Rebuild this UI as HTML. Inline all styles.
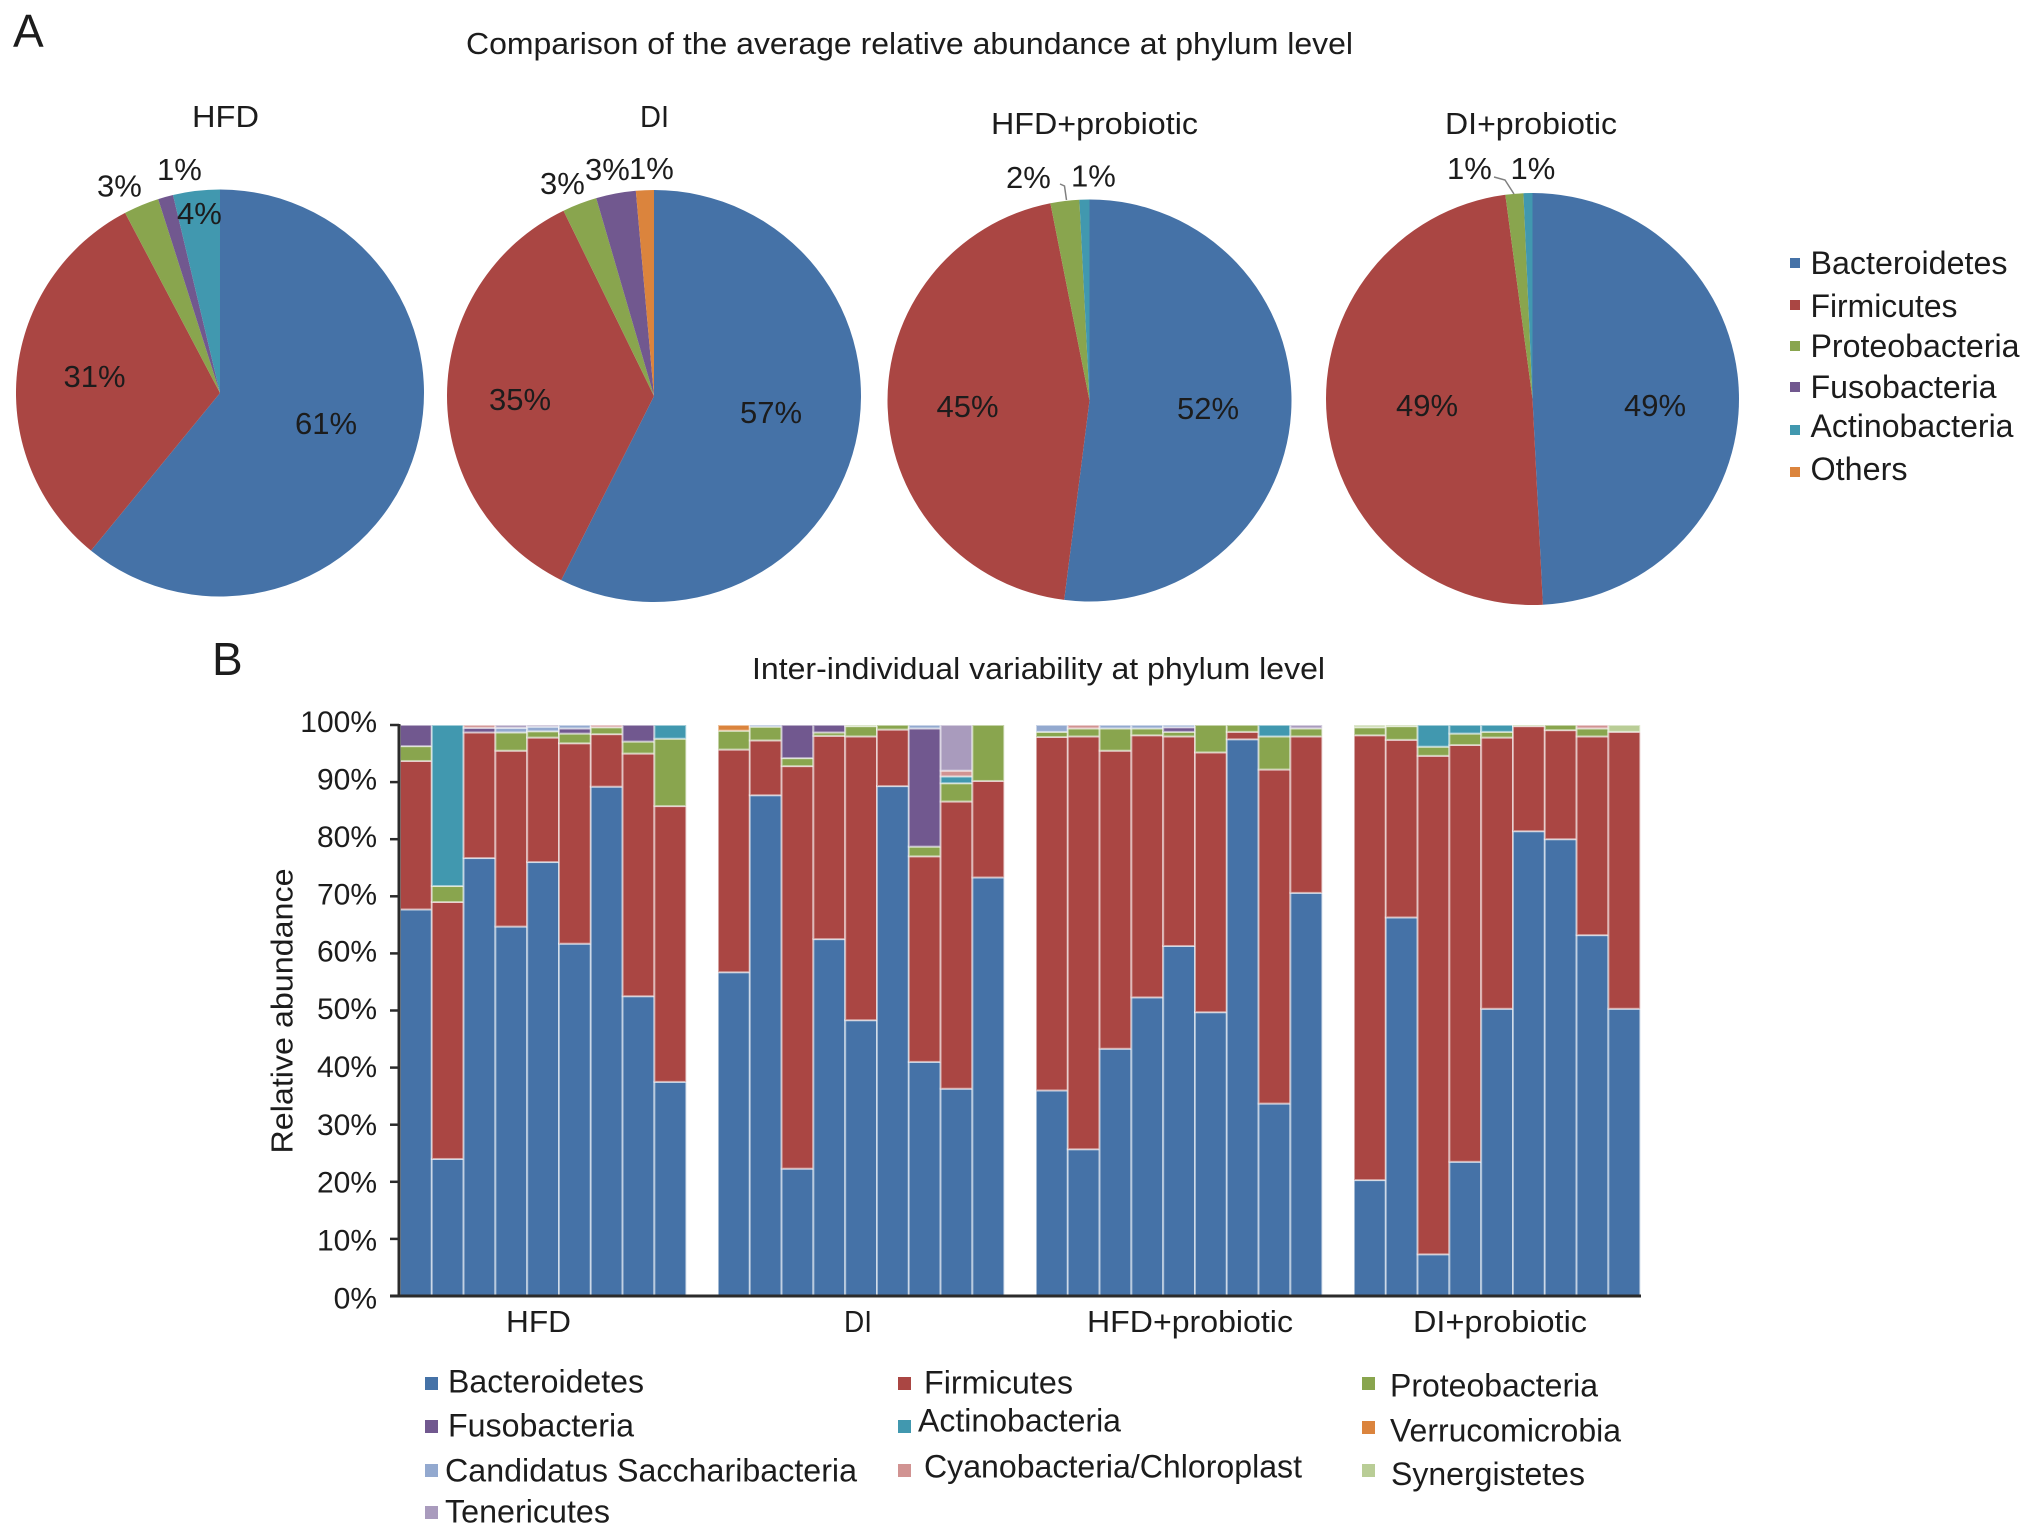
<!DOCTYPE html>
<html lang="en">
<head>
<meta charset="utf-8">
<title>Phylum level relative abundance</title>
<style>
html,body{margin:0;padding:0;background:#fff;}
svg{display:block;}
text{font-family:"Liberation Sans",Arial,sans-serif;fill:#1c1c1c;}
</style>
</head>
<body>
<svg id="figure" width="2032" height="1536" viewBox="0 0 2032 1536" xmlns="http://www.w3.org/2000/svg">
  <rect x="0" y="0" width="2032" height="1536" fill="#ffffff"/>
  <text x="13" y="47" font-size="46">A</text>
  <text x="212" y="675" font-size="46">B</text>
  <text x="466" y="54" font-size="31" textLength="887" lengthAdjust="spacingAndGlyphs">Comparison of the average relative abundance at phylum level</text>
  <text x="752" y="679" font-size="31" textLength="573" lengthAdjust="spacingAndGlyphs">Inter-individual variability at phylum level</text>

  <text x="192" y="127" font-size="31" textLength="67" lengthAdjust="spacingAndGlyphs">HFD</text>
  <text x="640" y="127" font-size="31" textLength="29" lengthAdjust="spacingAndGlyphs">DI</text>
  <text x="991" y="134" font-size="31" textLength="207" lengthAdjust="spacingAndGlyphs">HFD+probiotic</text>
  <text x="1445" y="134" font-size="31" textLength="172" lengthAdjust="spacingAndGlyphs">DI+probiotic</text>

  <g id="pies"></g>

  <polyline points="1060,184 1064.5,186 1066.5,200" fill="none" stroke="#808080" stroke-width="1.5"/>
  <polyline points="1494,177 1505,180 1514,194" fill="none" stroke="#808080" stroke-width="1.5"/>

  <g>
    <rect x="1790" y="258" width="10" height="10" fill="#4572a7"/>
    <text x="1810.5" y="274" font-size="32" textLength="197" lengthAdjust="spacingAndGlyphs">Bacteroidetes</text>
    <rect x="1790" y="300" width="10" height="10" fill="#aa4643"/>
    <text x="1810.5" y="317" font-size="32" textLength="147" lengthAdjust="spacingAndGlyphs">Firmicutes</text>
    <rect x="1790" y="341" width="10" height="10" fill="#89a54e"/>
    <text x="1810.5" y="357" font-size="32" textLength="209" lengthAdjust="spacingAndGlyphs">Proteobacteria</text>
    <rect x="1790" y="382" width="10" height="10" fill="#71588f"/>
    <text x="1810.5" y="398" font-size="32" textLength="186" lengthAdjust="spacingAndGlyphs">Fusobacteria</text>
    <rect x="1790" y="425" width="10" height="10" fill="#4198af"/>
    <text x="1810.5" y="437" font-size="32" textLength="203" lengthAdjust="spacingAndGlyphs">Actinobacteria</text>
    <rect x="1790" y="467" width="10" height="10" fill="#db843d"/>
    <text x="1810.5" y="480" font-size="32" textLength="97" lengthAdjust="spacingAndGlyphs">Others</text>
  </g>

  <g id="bars"></g>
  <g id="axes"></g>

  <text transform="translate(292.5,1011) rotate(-90)" text-anchor="middle" font-size="31" textLength="285" lengthAdjust="spacingAndGlyphs">Relative abundance</text>

  <g>
    <rect x="425" y="1377" width="13" height="13" fill="#4572a7"/>
    <text x="448" y="1392.5" font-size="32" textLength="196" lengthAdjust="spacingAndGlyphs">Bacteroidetes</text>
    <rect x="898" y="1377" width="13" height="13" fill="#aa4643"/>
    <text x="924" y="1393.5" font-size="32" textLength="149" lengthAdjust="spacingAndGlyphs">Firmicutes</text>
    <rect x="1362" y="1377" width="13" height="13" fill="#89a54e"/>
    <text x="1390" y="1396.5" font-size="32" textLength="208" lengthAdjust="spacingAndGlyphs">Proteobacteria</text>

    <rect x="425" y="1420" width="13" height="13" fill="#71588f"/>
    <text x="448" y="1436.5" font-size="32" textLength="186" lengthAdjust="spacingAndGlyphs">Fusobacteria</text>
    <rect x="898" y="1420" width="13" height="13" fill="#4198af"/>
    <text x="918" y="1431.5" font-size="32" textLength="203" lengthAdjust="spacingAndGlyphs">Actinobacteria</text>
    <rect x="1362" y="1421" width="13" height="13" fill="#db843d"/>
    <text x="1390" y="1441.5" font-size="32" textLength="231" lengthAdjust="spacingAndGlyphs">Verrucomicrobia</text>

    <rect x="425" y="1464" width="13" height="13" fill="#93a9cf"/>
    <text x="445" y="1481.5" font-size="32" textLength="412" lengthAdjust="spacingAndGlyphs">Candidatus Saccharibacteria</text>
    <rect x="898" y="1464" width="13" height="13" fill="#d19392"/>
    <text x="924" y="1477.5" font-size="32" textLength="378" lengthAdjust="spacingAndGlyphs">Cyanobacteria/Chloroplast</text>
    <rect x="1362" y="1464" width="13" height="13" fill="#b9cd96"/>
    <text x="1391" y="1485" font-size="32" textLength="194" lengthAdjust="spacingAndGlyphs">Synergistetes</text>

    <rect x="425" y="1506" width="13" height="13" fill="#a99bbd"/>
    <text x="445" y="1522.5" font-size="32" textLength="165" lengthAdjust="spacingAndGlyphs">Tenericutes</text>
  </g>
</svg>

<script>
// ---- Pie data (percent): Bacteroidetes, Firmicutes, Proteobacteria, Fusobacteria, Actinobacteria, Others
var pieCategories = ['Bacteroidetes', 'Firmicutes', 'Proteobacteria', 'Fusobacteria', 'Actinobacteria', 'Others'];
var pieHFD = [60.9, 31.4, 2.8, 1.2, 3.7, 0];
var pieDI = [57.4, 35.4, 2.7, 3.1, 0, 1.4];
var pieHFDProbiotic = [52.0, 44.9, 2.3, 0, 0.8, 0];
var pieDIProbiotic = [49.2, 48.7, 1.4, 0, 0.7, 0];

// ---- Bar data (percent per individual, 9 individuals in each of 4 groups)
var groupNames = ['HFD', 'DI', 'HFD+probiotic', 'DI+probiotic'];
var yTickValues = [0, 10, 20, 30, 40, 50, 60, 70, 80, 90, 100];
var seriesNames = ['Bacteroidetes', 'Firmicutes', 'Proteobacteria', 'Fusobacteria', 'Actinobacteria', 'Verrucomicrobia', 'Candidatus Saccharibacteria', 'Cyanobacteria/Chloroplast', 'Synergistetes', 'Tenericutes'];
var bacteroidetes = [67.7, 24, 76.7, 64.7, 76, 61.7, 89.2, 52.5, 37.5,
  56.7, 87.7, 22.3, 62.5, 48.3, 89.3, 41, 36.3, 73.3,
  36, 25.7, 43.3, 52.3, 61.3, 49.7, 97.5, 33.7, 70.6,
  20.3, 66.3, 7.3, 23.5, 50.3, 81.4, 80, 63.2, 50.3];
var firmicutes = [26, 45, 22, 30.8, 21.8, 35.1, 9.2, 42.5, 48.3,
  39, 9.6, 70.5, 35.6, 49.7, 9.9, 36, 50.3, 16.9,
  61.9, 72.3, 52.2, 45.9, 36.7, 45.5, 1.3, 58.5, 27.4,
  77.9, 31.1, 87.3, 73, 47.5, 18.4, 19.1, 34.8, 48.5];
var proteobacteria = [2.6, 2.8, 0, 3.2, 1.1, 1.7, 1.2, 2.1, 11.8,
  3.3, 2.4, 1.4, 0.6, 1.8, 0.8, 1.7, 3.2, 9.8,
  0.9, 1.4, 3.9, 1.2, 0.8, 4.8, 1.2, 5.8, 1.4,
  1.4, 2.4, 1.6, 2, 1, 0, 0.9, 1.4, 0];
var fusobacteria = [3.7, 0, 0.8, 0, 0, 0.9, 0, 2.9, 0,
  0, 0, 5.8, 1.3, 0, 0, 20.7, 0, 0,
  0, 0, 0, 0, 0.8, 0, 0, 0, 0,
  0, 0, 0, 0, 0, 0, 0, 0, 0];
var actinobacteria = [0, 28.2, 0, 0, 0, 0, 0, 0, 2.4,
  0, 0, 0, 0, 0, 0, 0, 1.2, 0,
  0, 0, 0, 0, 0, 0, 0, 2, 0,
  0, 0, 3.8, 1.5, 1.2, 0, 0, 0, 0];
var verrucomicrobia = [0, 0, 0, 0, 0, 0, 0, 0, 0,
  1, 0, 0, 0, 0, 0, 0, 0, 0,
  0, 0, 0, 0, 0, 0, 0, 0, 0,
  0, 0, 0, 0, 0, 0, 0, 0, 0];
var candidatus = [0, 0, 0, 0.8, 0.8, 0.6, 0, 0, 0,
  0, 0.3, 0, 0, 0, 0, 0.6, 0, 0,
  1.2, 0, 0.6, 0.6, 0.4, 0, 0, 0, 0,
  0, 0, 0, 0, 0, 0, 0, 0, 0];
var cyanobacteria = [0, 0, 0.5, 0, 0, 0, 0.4, 0, 0,
  0, 0, 0, 0, 0, 0, 0, 1, 0,
  0, 0.6, 0, 0, 0, 0, 0, 0, 0,
  0, 0, 0, 0, 0, 0, 0, 0.6, 0];
var synergistetes = [0, 0, 0, 0, 0, 0, 0, 0, 0,
  0, 0, 0, 0, 0.2, 0, 0, 0, 0,
  0, 0, 0, 0, 0, 0, 0, 0, 0,
  0.4, 0.2, 0, 0, 0, 0.2, 0, 0, 1.2];
var tenericutes = [0, 0, 0, 0.5, 0.3, 0, 0, 0, 0,
  0, 0, 0, 0, 0, 0, 0, 8, 0,
  0, 0, 0, 0, 0, 0, 0, 0, 0.6,
  0, 0, 0, 0, 0, 0, 0, 0, 0];
var seriesValues = [bacteroidetes, firmicutes, proteobacteria, fusobacteria, actinobacteria, verrucomicrobia, candidatus, cyanobacteria, synergistetes, tenericutes];

(function () {
  var NS = 'http://www.w3.org/2000/svg';
  function make(tag, attrs, parent) {
    var node = document.createElementNS(NS, tag);
    for (var k in attrs) node.setAttribute(k, attrs[k]);
    parent.appendChild(node);
    return node;
  }
  function slug(s) { return s.toLowerCase().replace(/[^a-z0-9]+/g, '-'); }

  // ---------- Pies ----------
  var pieColors = ['#4572a7', '#aa4643', '#89a54e', '#71588f', '#4198af', '#db843d'];
  var pieSeries = [pieHFD, pieDI, pieHFDProbiotic, pieDIProbiotic];
  var pieFrames = [
    { cx: 220, cy: 393, rx: 204, ry: 203.5 },
    { cx: 654, cy: 396, rx: 207, ry: 206 },
    { cx: 1089.5, cy: 400.5, rx: 202, ry: 201 },
    { cx: 1532.5, cy: 399, rx: 206.5, ry: 206 }
  ];
  // Hand-placed label anchors (layout only) per pie, per category; null = no label.
  var pieLabelAnchors = [
    [[295, 434], [63.5, 387], [97, 196.5], [157, 180], [177, 224], null],
    [[740, 423], [489, 410], [540, 194], [585, 180], null, [629, 179]],
    [[1177, 419], [936.5, 417], [1006, 188], null, [1071, 186.5], null],
    [[1624, 416], [1396, 416], [1447, 179], null, [1510.5, 179], null]
  ];
  var pieRoot = document.getElementById('pies');
  pieSeries.forEach(function (values, p) {
    var f = pieFrames[p];
    var total = values.reduce(function (a, b) { return a + b; }, 0);
    var cum = 0;
    values.forEach(function (v, i) {
      if (v <= 0) return;
      var a0 = cum / total * 2 * Math.PI;
      cum += v;
      var a1 = cum / total * 2 * Math.PI;
      var x0 = f.cx + f.rx * Math.sin(a0), y0 = f.cy - f.ry * Math.cos(a0);
      var x1 = f.cx + f.rx * Math.sin(a1), y1 = f.cy - f.ry * Math.cos(a1);
      var large = (a1 - a0) > Math.PI ? 1 : 0;
      var d = 'M' + f.cx + ' ' + f.cy + ' L' + x0 + ' ' + y0 + ' A' + f.rx + ' ' + f.ry + ' 0 ' + large + ' 1 ' + x1 + ' ' + y1 + ' Z';
      var slice = make('path', { d: d, fill: pieColors[i] }, pieRoot);
      
      
    });
    values.forEach(function (v, i) {
      var anchor = pieLabelAnchors[p][i];
      if (!anchor) return;
      var label = make('text', { x: anchor[0], y: anchor[1], 'font-size': 31 }, pieRoot);
      
      
      label.textContent = Math.max(1, Math.round(v)) + '%';
    });
  });

  // ---------- Stacked bars ----------
  var barColors = ['#4572a7', '#aa4643', '#89a54e', '#71588f', '#4198af', '#db843d', '#93a9cf', '#d19392', '#b9cd96', '#a99bbd'];
  var plotLeft = 400, bandWidth = 31.8, perGroup = 9;
  var yZero = 1296, yFull = 725;
  function yScale(v) { return yZero - (v / 100) * (yZero - yFull); }
  function xScale(i) {
    var group = Math.floor(i / perGroup);
    return plotLeft + bandWidth * (i + group);
  }
  var barRoot = document.getElementById('bars');
  bacteroidetes.forEach(function (_, i) {
    var base = 0;
    seriesValues.forEach(function (vals, s) {
      var v = vals[i];
      if (v <= 0) return;
      var yTop = yScale(base + v), yBottom = yScale(base);
      var seg = make('rect', {
        x: xScale(i), y: yTop, width: bandWidth, height: yBottom - yTop,
        fill: barColors[s], stroke: '#ffffff', 'stroke-opacity': 0.5, 'stroke-width': 2
      }, barRoot);
      
      
      base += v;
    });
  });

  // ---------- Axes ----------
  var axes = document.getElementById('axes');
  var yAxis = make('line', { x1: 399, x2: 399, y1: yFull - 1, y2: yZero + 1.5, stroke: '#2b2b2b', 'stroke-width': 3 }, axes);
  
  
  var xAxis = make('line', { x1: 390, x2: 1641, y1: yZero, y2: yZero, stroke: '#2b2b2b', 'stroke-width': 3 }, axes);
  
  
  yTickValues.forEach(function (t) {
    var y = yScale(t);
    var tick = make('line', { x1: 390, x2: 399, y1: y, y2: y, stroke: '#2b2b2b', 'stroke-width': 2.5 }, axes);
    
    
    // Tick labels sit slightly off their ticks in the source figure.
    var drift = t < 50 ? (50 - t) * 0.078 : (50 - t) * 0.026;
    var lab = make('text', { x: 377, y: y + 8.5 + drift, 'text-anchor': 'end', 'font-size': 30 }, axes);
    
    
    lab.textContent = t + '%';
  });
  var xLabelCenters = [538.5, 858, 1190, 1500];
  var xLabelWidths = [65, 28, 206, 174];
  groupNames.forEach(function (g, k) {
    var lab = make('text', { x: xLabelCenters[k], y: 1332, 'text-anchor': 'middle', 'font-size': 31, textLength: xLabelWidths[k], lengthAdjust: 'spacingAndGlyphs' }, axes);
    
    
    lab.textContent = g;
  });
})();
</script>
</body>
</html>
